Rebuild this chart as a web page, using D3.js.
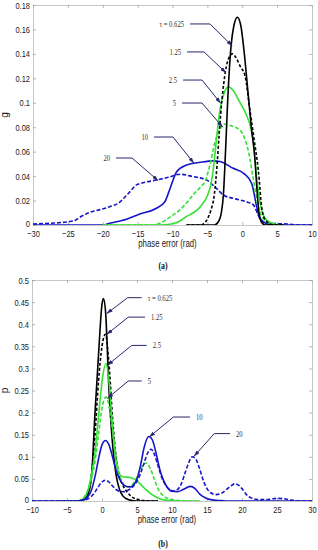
<!DOCTYPE html>
<html><head><meta charset="utf-8">
<script src="https://cdn.jsdelivr.net/npm/d3@7"></script>
<style>body{margin:0;background:#fff}svg{display:block}</style>
</head><body><svg id="c" width="318" height="550"></svg>
<script>
// ---------------- data: panel (a) g vs phase error ----------------
const aXTicks = [-30,-25,-20,-15,-10,-5,0,5,10];
const aYTicks = [0,0.02,0.04,0.06,0.08,0.1,0.12,0.14,0.16,0.18];
const aT0625 = [[-8,0],[-4,0],[-3.5,0.002],[-3,0.01],[-2.7,0.025],[-2.4,0.06],[-2.1,0.1],[-1.7,0.14],[-1.2,0.163],[-0.7,0.17],[-0.2,0.163],[0.3,0.14],[0.8,0.11],[1.3,0.08],[1.8,0.055],[2.1,0.03],[2.4,0.01],[2.8,0.002],[3.3,0],[6,0]];
const aT125 = [[-8,0],[-6,0],[-5.5,0.001],[-5,0.005],[-4.5,0.012],[-4,0.025],[-3.6,0.05],[-3.3,0.075],[-2.9,0.103],[-2.4,0.126],[-1.9,0.137],[-1.4,0.14],[-0.9,0.137],[-0.3,0.13],[0.4,0.122],[1.1,0.094],[1.7,0.07],[2.3,0.045],[2.8,0.014],[3.3,0.004],[4,0.001],[4.5,0],[6,0]];
const aT25 = [[-20,0],[-12,0],[-10,0.001],[-9,0.003],[-8,0.007],[-7,0.01],[-6,0.015],[-5,0.024],[-4.5,0.033],[-4.1,0.048],[-3.7,0.07],[-3.2,0.094],[-2.6,0.108],[-2,0.113],[-1.3,0.11],[-0.5,0.102],[0.6,0.09],[1.2,0.08],[1.6,0.068],[2.1,0.037],[2.5,0.02],[2.8,0.012],[3.5,0.004],[4.5,0.001],[5.5,0],[6,0]];
const aT5 = [[-20,0],[-13,0],[-12,0.001],[-11,0.004],[-10,0.008],[-9,0.012],[-8,0.018],[-7,0.025],[-6,0.031],[-5.3,0.036],[-4.6,0.05],[-3.9,0.068],[-3.2,0.078],[-2.5,0.0825],[-1.5,0.081],[-0.3,0.0775],[0.4,0.07],[0.9,0.06],[1.6,0.037],[2.3,0.015],[3,0.0055],[4,0.0012],[5,0],[6,0]];
const aT10 = [[-30,0],[-20,0],[-19,0.0014],[-16.6,0.0047],[-14.7,0.009],[-12.3,0.0137],[-11.1,0.019],[-10.4,0.029],[-9.4,0.0436],[-8,0.049],[-6,0.0513],[-4.2,0.0525],[-3.2,0.052],[-1.3,0.0464],[0.2,0.0423],[1.35,0.034],[2.07,0.015],[2.5,0.0055],[3.5,0.001],[4.5,0],[10,0]];
const aT20 = [[-30,0.0008],[-27.6,0.0014],[-24.2,0.0033],[-23.3,0.0063],[-21.8,0.0105],[-20.2,0.0128],[-19,0.015],[-17.8,0.0177],[-16.3,0.026],[-15.1,0.033],[-14.6,0.034],[-12.3,0.0368],[-10.6,0.039],[-8.9,0.0415],[-7,0.0395],[-5.1,0.0368],[-3.7,0.03],[-2.7,0.0245],[-1.3,0.0218],[0.6,0.019],[1.6,0.0164],[2.3,0.0082],[3,0.0027],[4,0.0013],[6.6,0.0008],[8,0],[10,0]];

// ---------------- data: panel (b) p vs phase error ----------------
const bXTicks = [-10,-5,0,5,10,15,20,25,30];
const bYTicks = [0,0.05,0.1,0.15,0.2,0.25,0.3,0.35,0.4,0.45,0.5];
const bT0625 = [[-6,0],[-3,0],[-2.5,0.003],[-2,0.015],[-1.5,0.055],[-1,0.2],[-0.5,0.33],[0,0.445],[0.2,0.458],[0.5,0.43],[1,0.25],[1.5,0.13],[2,0.06],[2.5,0.026],[3,0.011],[3.5,0.005],[4,0.002],[5,0],[8,0]];
const bT125 = [[-6,0],[-3,0],[-2.5,0.004],[-2,0.018],[-1.5,0.06],[-1,0.15],[-0.5,0.27],[0,0.35],[0.5,0.377],[1,0.31],[1.5,0.19],[2,0.1],[2.5,0.055],[3,0.035],[3.5,0.022],[4,0.013],[4.5,0.007],[5,0.004],[6,0.001],[7,0],[8,0]];
const bT25 = [[-6,0],[-3.5,0],[-3,0.002],[-2.5,0.008],[-2,0.025],[-1.5,0.06],[-1,0.11],[-0.5,0.19],[0,0.27],[0.57,0.311],[1,0.27],[1.5,0.17],[2,0.09],[2.5,0.06],[3,0.055],[4,0.053],[4.5,0.05],[5,0.045],[6,0.03],[7,0.016],[8,0.007],[9,0.002],[10,0.001],[11,0],[14,0]];
const bT5 = [[-6,0],[-3.5,0],[-3,0.003],[-2.5,0.01],[-2,0.025],[-1.5,0.05],[-1,0.09],[-0.5,0.15],[0,0.21],[0.57,0.235],[1,0.215],[1.5,0.16],[2,0.1],[2.5,0.06],[3,0.04],[3.5,0.032],[4,0.033],[4.5,0.04],[5,0.055],[5.5,0.072],[6.3,0.086],[7,0.07],[7.5,0.048],[8,0.028],[9,0.009],[10,0.003],[11,0.001],[12,0],[14,0]];
const bT10 = [[-10,0],[-3.5,0],[-3,0.001],[-2.5,0.004],[-2,0.01],[-1.5,0.025],[-1,0.055],[-0.5,0.095],[0,0.127],[0.5,0.137],[1,0.127],[1.5,0.1],[2,0.07],[2.5,0.05],[3,0.038],[3.5,0.033],[4,0.032],[4.5,0.036],[5,0.05],[5.5,0.08],[6,0.12],[6.7,0.146],[7.2,0.138],[7.7,0.11],[8.2,0.075],[8.7,0.05],[9.2,0.034],[10,0.022],[10.8,0.021],[11.6,0.026],[12.6,0.033],[13.3,0.028],[14,0.015],[14.8,0.007],[16,0.002],[17,0.001],[18,0],[30,0]];
const bT20 = [[-10,0],[-3.5,0],[-3,0.001],[-2,0.005],[-1,0.02],[-0.5,0.033],[0,0.043],[0.5,0.047],[1,0.043],[1.5,0.034],[2,0.026],[2.5,0.022],[3,0.021],[3.5,0.023],[4,0.027],[4.5,0.034],[5,0.045],[5.5,0.062],[6,0.085],[6.5,0.108],[7,0.117],[7.5,0.105],[8,0.08],[8.5,0.055],[9,0.038],[9.5,0.028],[10.2,0.023],[10.8,0.026],[11.3,0.038],[11.8,0.06],[12.3,0.083],[12.9,0.1],[13.4,0.095],[13.9,0.075],[14.5,0.045],[15,0.028],[15.6,0.018],[16.3,0.0145],[17,0.017],[17.7,0.025],[18.4,0.034],[19,0.039],[19.5,0.036],[20,0.028],[20.6,0.015],[21.3,0.007],[22,0.004],[23,0.003],[24,0.004],[25,0.006],[26,0.005],[27,0.002],[28,0],[30,0]];

// annotation labels (anchor points in data units: label end, elbow, arrow tip)
const tauLabels = ["τ = 0.625","1.25","2.5","5","10","20"];
const aNotes = [
  [[-7.49,0.1645],[-4.62,0.1645],[-1.43,0.1465]],
  [[-7.92,0.1416],[-5.48,0.1416],[-2.33,0.1246]],
  [[-8.49,0.1186],[-5.77,0.1186],[-3.09,0.0996]],
  [[-8.64,0.0998],[-5.77,0.0998],[-2.8,0.080]],
  [[-12.65,0.072],[-9.93,0.072],[-6.92,0.0505]],
  [[-18.1,0.0548],[-15.8,0.0548],[-12.04,0.0362]]
];
const bNotes = [
  [[5.67,0.46],[3.67,0.46],[0.67,0.424]],
  [[6.14,0.416],[3.76,0.416],[0.67,0.377]],
  [[6.39,0.352],[4.24,0.352],[0.76,0.307]],
  [[5.67,0.2715],[3.76,0.2715],[0.76,0.232]],
  [[12.57,0.19],[10.19,0.19],[6.76,0.145]],
  [[18.29,0.1525],[16.04,0.1525],[13.14,0.101]]
];

// ---------------- drawing ----------------
const svg = d3.select("#c");
const SANS = "'Liberation Sans', Arial, sans-serif";
const SERIF = "'Liberation Serif', 'Times New Roman', serif";
const SQ = 0.78; // horizontal squeeze of the original figure's text
const C_BLACK = "#000", C_GREEN = "#33e033", C_BLUE = "#1616c8", C_NAVY = "#27276e";

svg.append("defs").append("marker")
  .attr("id","arr").attr("viewBox","0 0 6 4").attr("refX",6).attr("refY",2)
  .attr("markerWidth",6).attr("markerHeight",4).attr("markerUnits","userSpaceOnUse")
  .attr("orient","auto")
  .append("path").attr("d","M0,0L6,2L0,4z").attr("fill",C_NAVY);

function txt(g, x, y, s, o){
  return g.append("text")
    .attr("transform",`translate(${x},${y}) scale(${SQ},1)`)
    .attr("text-anchor",o.anchor||"middle")
    .attr("font-family",o.family||SANS)
    .attr("font-size",o.size||10)
    .attr("font-weight",o.weight||"normal")
    .attr("fill",o.fill||"#1a1a1a")
    .text(s);
}

function panel(o){
  const x = d3.scaleLinear().domain(o.xDomain).range([o.left,o.right]);
  const y = d3.scaleLinear().domain(o.yDomain).range([o.bottom,o.top]);
  const g = svg.append("g");
  const axStyle = sel => {
    sel.select(".domain").attr("stroke","#b8b8b8").attr("stroke-width",0.8);
    sel.selectAll(".tick line").attr("stroke","#999").attr("stroke-width",0.7);
  };
  // bottom
  const gb = g.append("g").attr("transform",`translate(0,${o.bottom})`)
    .call(d3.axisBottom(x).tickValues(o.xTicks).tickSize(-3).tickSizeOuter(0).tickPadding(5).tickFormat(d3.format("d")));
  axStyle(gb);
  gb.selectAll(".tick text").attr("font-family",SANS).attr("font-size",9.6).attr("fill","#1a1a1a")
    .attr("transform",`scale(${SQ},1)`);
  // top
  const gt = g.append("g").attr("transform",`translate(0,${o.top})`)
    .call(d3.axisTop(x).tickValues(o.xTicks).tickSize(-3).tickSizeOuter(0).tickFormat(""));
  axStyle(gt);
  // left
  const gl = g.append("g").attr("transform",`translate(${o.left},0)`)
    .call(d3.axisLeft(y).tickValues(o.yTicks).tickSize(-3).tickSizeOuter(0).tickPadding(3).tickFormat(d => d3.format("")(+d.toFixed(3))));
  axStyle(gl);
  gl.selectAll(".tick text").attr("font-family",SANS).attr("font-size",9.6).attr("fill","#1a1a1a")
    .attr("x",-3/SQ).attr("transform",`scale(${SQ},1)`)
    .filter(d => d === 0).attr("dy","0.12em");
  // right
  const gr = g.append("g").attr("transform",`translate(${o.right},0)`)
    .call(d3.axisRight(y).tickValues(o.yTicks).tickSize(-3).tickSizeOuter(0).tickFormat(""));
  axStyle(gr);

  // series
  const line = d3.line().x(d=>x(d[0])).y(d=>y(d[1])).curve(d3.curveMonotoneX);
  const clipId = "clip"+o.id;
  g.append("clipPath").attr("id",clipId).append("rect")
    .attr("x",o.left).attr("y",o.top-2).attr("width",o.right-o.left).attr("height",o.bottom-o.top+2);
  const sg = g.append("g").attr("clip-path",`url(#${clipId})`);
  o.series.forEach(s=>{
    sg.append("path").attr("d",line(s.data)).attr("fill","none")
      .attr("stroke",s.color).attr("stroke-width",s.w||1.5)
      .attr("stroke-dasharray",s.dash||null).attr("stroke-linejoin","round");
  });

  // annotations
  o.notes.forEach((n,i)=>{
    const pts = n.map(p=>[x(p[0]),y(p[1])]);
    g.append("path").attr("d",d3.line()(pts)).attr("fill","none")
      .attr("stroke",C_NAVY).attr("stroke-width",1).attr("marker-end","url(#arr)");
    const tx = o.labelSide==="left" ? pts[0][0]-6 : pts[0][0]+6;
    txt(g, tx, pts[0][1]+3, tauLabels[i], {anchor:o.labelSide==="left"?"end":"start", family:SERIF, size:8.5, fill:"#333"});
  });

  // axis labels
  txt(g, (o.left+o.right)/2-5, o.xLabelY, "phase error (rad)", {size:10});
  g.append("text").attr("transform",`translate(${o.yLabelX},${(o.top+o.bottom)/2}) rotate(-90)`)
    .attr("text-anchor","middle").attr("font-family",SANS).attr("font-size",10).attr("fill","#1a1a1a")
    .text(o.yLabel);
  txt(g, 163, o.capY, o.caption, {family:SERIF, size:10, weight:"bold", fill:"#111"});
}

panel({
  id:"a", xDomain:[-30,10], yDomain:[0,0.18], left:33, right:312, top:5, bottom:225,
  xTicks:aXTicks, yTicks:aYTicks, yLabel:"g", yLabelX:8, xLabelY:246.5, capY:268.5, caption:"(a)",
  labelSide:"left", notes:aNotes,
  series:[
    {data:aT10, color:C_BLUE, w:1.6},
    {data:aT20, color:C_BLUE, w:1.6, dash:"4,2"},
    {data:aT25, color:C_GREEN, w:1.6},
    {data:aT5, color:C_GREEN, w:1.6, dash:"4,2"},
    {data:aT0625, color:C_BLACK, w:1.6},
    {data:aT125, color:C_BLACK, w:1.6, dash:"3,2"}
  ]
});
panel({
  id:"b", xDomain:[-10,30], yDomain:[0,0.5], left:32, right:312, top:280, bottom:501,
  xTicks:bXTicks, yTicks:bYTicks, yLabel:"p", yLabelX:8, xLabelY:522.5, capY:546.5, caption:"(b)",
  labelSide:"right", notes:bNotes,
  series:[
    {data:bT0625, color:C_BLACK, w:1.6},
    {data:bT125, color:C_BLACK, w:1.6, dash:"3,2"},
    {data:bT25, color:C_GREEN, w:1.6},
    {data:bT5, color:C_GREEN, w:1.6, dash:"4,2"},
    {data:bT10, color:C_BLUE, w:1.6},
    {data:bT20, color:C_BLUE, w:1.6, dash:"4,2"}
  ]
});
</script>
</body></html>
